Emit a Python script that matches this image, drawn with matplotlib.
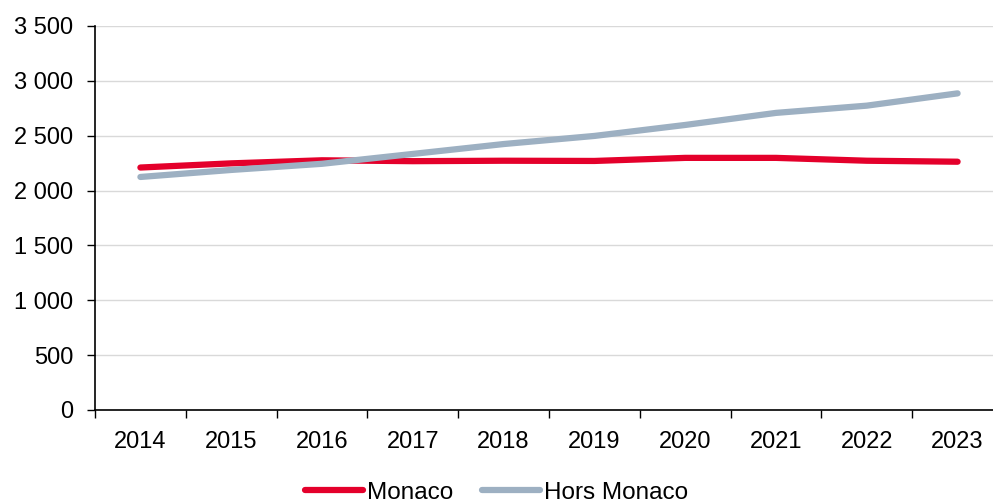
import numpy as np
import matplotlib.pyplot as plt
from matplotlib.ticker import FuncFormatter, FixedLocator

plt.rcParams['font.family'] = ['Liberation Sans', 'DejaVu Sans']

years = ['2014', '2015', '2016', '2017', '2018', '2019', '2020', '2021', '2022', '2023']
monaco = [2210, 2248, 2276, 2268, 2272, 2270, 2298, 2298, 2272, 2263]
hors_monaco = [2124, 2188, 2244, 2334, 2424, 2498, 2598, 2708, 2774, 2886]

fig = plt.figure(figsize=(9.93, 5.03), dpi=100)
ax = fig.add_axes([95 / 993, 1 - 410 / 503, 908 / 993, 384 / 503])

x = np.arange(len(years))
ax.plot(x, monaco, color='#E4002B', lw=4.5, solid_capstyle='round', label='Monaco', zorder=3)
ax.plot(x, hors_monaco, color='#9DB0C2', lw=4.5, solid_capstyle='round', label='Hors Monaco', zorder=3)

ax.set_xlim(-0.5, len(years) - 0.5)
ax.set_ylim(0, 3500)
ax.set_yticks(np.arange(0, 3501, 500))
ax.yaxis.set_major_formatter(FuncFormatter(lambda v, p: f'{int(v):,}'.replace(',', ' ')))
ax.set_xticks(x)
ax.set_xticklabels(years)
ax.xaxis.set_minor_locator(FixedLocator(np.arange(-0.5, len(years), 1)))
ax.tick_params(axis='x', which='major', length=0, pad=15, labelsize=17)
ax.tick_params(axis='x', which='minor', length=6, width=1, direction='out')
ax.tick_params(axis='y', length=5.5, width=1, direction='out', labelsize=17, pad=10)

ax.grid(axis='y', color='#d9d9d9', lw=1)
ax.set_axisbelow(True)
for s in ['top', 'right']:
    ax.spines[s].set_visible(False)
ax.spines['left'].set_linewidth(1.2)
ax.spines['bottom'].set_linewidth(1.2)

fig.legend(loc='lower center', bbox_to_anchor=(0.5, -0.045), ncol=2, frameon=False,
           fontsize=17.5, handlelength=2.4, handletextpad=0.15, columnspacing=1.2)

fig.savefig('out.png', dpi=100)
